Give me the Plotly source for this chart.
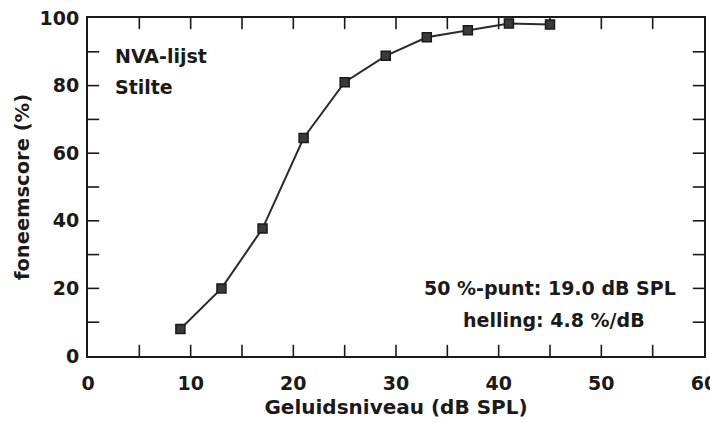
import plotly.graph_objects as go

# Phoneme score versus sound level (NVA word list, in quiet)
niveau_db = [9, 13, 17, 21, 25, 29, 33, 37, 41, 45]
score_pct = [8, 20, 37.7, 64.5, 81, 88.8, 94.3, 96.4, 98.4, 98.1]

x_range = [0, 60]
y_range = [0, 100]
x_ticks = [0, 10, 20, 30, 40, 50, 60]
x_tick_marks = [5, 10, 15, 20, 25, 30, 35, 40, 45, 50, 55]
y_ticks = [0, 20, 40, 60, 80, 100]
y_tick_marks = [10, 20, 30, 40, 50, 60, 70, 80, 90]

ink = "#1a1a1a"
font_family = "DejaVu Sans, Liberation Sans, Arial, sans-serif"


def bold(s):
    return "<b>" + s + "</b>"


fig = go.Figure()

# Inward tick marks on all four sides; markers are clipped to the plot area,
# so only the inner half of each line symbol remains visible.
tick_style = dict(mode="markers", showlegend=False, hoverinfo="skip", cliponaxis=True)
for y_edge in y_range:
    fig.add_trace(go.Scatter(
        x=x_tick_marks, y=[y_edge] * len(x_tick_marks),
        marker=dict(symbol="line-ns", size=16, line=dict(color=ink, width=1.6)),
        **tick_style,
    ))
for x_edge in x_range:
    fig.add_trace(go.Scatter(
        x=[x_edge] * len(y_tick_marks), y=y_tick_marks,
        marker=dict(symbol="line-ew", size=16, line=dict(color=ink, width=1.6)),
        **tick_style,
    ))

fig.add_trace(go.Scatter(
    x=niveau_db, y=score_pct, mode="lines+markers",
    line=dict(color="#2a2a2a", width=2),
    marker=dict(symbol="square", size=9, color="#3a3a3a",
                line=dict(color=ink, width=1.5)),
    showlegend=False,
))

axis_common = dict(
    showline=True, linecolor=ink, linewidth=2, mirror=True,
    ticks="", showgrid=False, zeroline=False,
    ticklabeloverflow="allow", automargin=False,
    tickfont=dict(family=font_family, size=19, color=ink),
)

fig.update_xaxes(
    range=x_range, tickmode="array", tickvals=x_ticks,
    ticktext=[bold(str(v)) for v in x_ticks], ticklabelstandoff=9,
    title=dict(text=bold("Geluidsniveau (dB SPL)"), standoff=7,
               font=dict(family=font_family, size=20, color=ink)),
    **axis_common,
)
fig.update_yaxes(
    range=y_range, tickmode="array", tickvals=y_ticks,
    ticktext=[bold(str(v)) for v in y_ticks], ticklabelstandoff=3,
    title=dict(text=bold("foneemscore (%)"), standoff=5,
               font=dict(family=font_family, size=19.5, color=ink)),
    **axis_common,
)

label_font = dict(family=font_family, size=19, color=ink)
fig.add_annotation(x=0.04, y=0.888, xref="paper", yref="paper", xanchor="left",
                   yanchor="middle", text=bold("NVA-lijst"), showarrow=False, font=label_font)
fig.add_annotation(x=0.04, y=0.795, xref="paper", yref="paper", xanchor="left",
                   yanchor="middle", text=bold("Stilte"), showarrow=False, font=label_font)
fig.add_annotation(x=0.958, y=0.2, xref="paper", yref="paper", xanchor="right",
                   yanchor="middle", text=bold("50 %-punt: 19.0 dB SPL"), showarrow=False,
                   font=label_font)
fig.add_annotation(x=0.907, y=0.107, xref="paper", yref="paper", xanchor="right",
                   yanchor="middle", text=bold("helling: 4.8 %/dB"), showarrow=False,
                   font=label_font)

fig.update_layout(
    template="none",
    width=710, height=430,
    margin=dict(l=88, r=6, t=18, b=74),
    paper_bgcolor="white", plot_bgcolor="white",
)

fig.write_html("out.html")
